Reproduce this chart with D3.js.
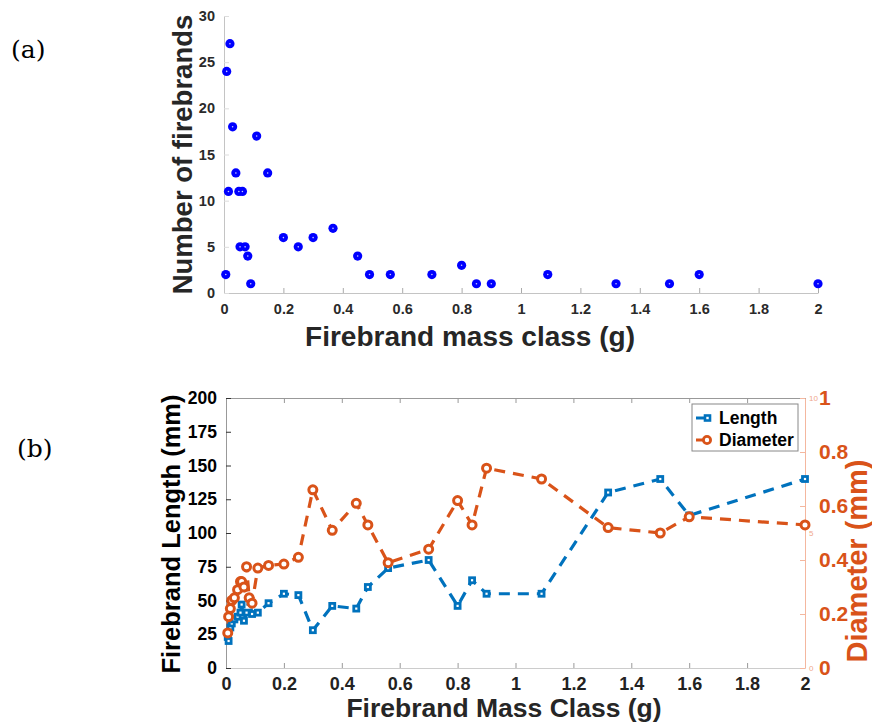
<!DOCTYPE html>
<html>
<head>
<meta charset="utf-8">
<script src="https://cdn.jsdelivr.net/npm/d3@7"></script>
<style>
  body { margin: 0; background: #fff; }
  svg { font-family: 'Liberation Sans', Arial, sans-serif; }
</style>
</head>
<body>
<div id="chart"></div>
<script>
// mass classes (g), shared by both panels
const massClass = [0.006, 0.009, 0.015, 0.02, 0.029, 0.04, 0.05, 0.054, 0.062, 0.071,
  0.08, 0.09, 0.11, 0.147, 0.2, 0.25, 0.3, 0.367, 0.45, 0.49,
  0.56, 0.7, 0.8, 0.85, 0.9, 1.09, 1.32, 1.5, 1.6, 2.0]
const firebrandCount = [2, 24, 11, 27, 18, 13, 11, 5, 11, 5,
  4, 1, 17, 13, 6, 5, 6, 7, 4, 2,
  2, 2, 3, 1, 1, 2, 1, 1, 2, 1]
const lengthMm = [23, 20, 30, 33, 36, 38, 41, 47, 35, 41,
  52, 40, 41, 48, 55, 54, 28, 46, 44, 60,
  74, 80, 46, 65, 55, 55, 130, 140, 113, 140]
const diameterMm = [0.13, 0.19, 0.22, 0.25, 0.26, 0.29, 0.32, 0.32, 0.3, 0.375,
  0.26, 0.24, 0.37, 0.38, 0.385, 0.41, 0.66, 0.51, 0.61, 0.53,
  0.39, 0.44, 0.62, 0.53, 0.74, 0.7, 0.52, 0.5, 0.56, 0.53]

const massTicks = [0, 0.2, 0.4, 0.6, 0.8, 1, 1.2, 1.4, 1.6, 1.8, 2]
const countTicks = [0, 5, 10, 15, 20, 25, 30]
const lengthTicks = [0, 25, 50, 75, 100, 125, 150, 175, 200]
const diameterTicks = [0, 0.2, 0.4, 0.6, 0.8, 1]
const ghostTicks = [0, 5, 10]
const seriesNames = ['Length', 'Diameter']

const blue = '#0072BD'
const orange = '#D95319'

const svg = d3.select('#chart').append('svg')
  .attr('width', 872)
  .attr('height', 726)

const fmt = d => String(d)

// ---------- panel (a) ----------
const xA = d3.scaleLinear().domain([0, 2]).range([224, 818])
const yA = d3.scaleLinear().domain([0, 30]).range([293, 16])

const gA = svg.append('g')

gA.append('g')
  .attr('transform', 'translate(0,' + yA(0) + ')')
  .call(d3.axisBottom(xA).tickValues(massTicks).tickFormat(fmt).tickSizeInner(-5).tickSizeOuter(0).tickPadding(11))
  .call(g => g.select('.domain').attr('stroke', '#c4c4c4'))
  .call(g => g.selectAll('.tick line').attr('stroke', '#aaa'))
  .call(g => g.selectAll('text').attr('font-size', 14.5).attr('font-weight', 'bold').attr('fill', '#2a2a2a'))

gA.append('g')
  .attr('transform', 'translate(' + xA(0) + ',0)')
  .call(d3.axisLeft(yA).tickValues(countTicks).tickFormat(fmt).tickSizeInner(-5).tickSizeOuter(0).tickPadding(9))
  .call(g => g.select('.domain').attr('stroke', '#c4c4c4'))
  .call(g => g.selectAll('.tick line').attr('stroke', '#ddd'))
  .call(g => g.selectAll('text').attr('font-size', 14.5).attr('font-weight', 'bold').attr('fill', '#2a2a2a'))

gA.selectAll('circle.pt')
  .data(massClass)
  .enter()
  .append('circle')
  .attr('class', 'pt')
  .attr('cx', d => xA(d))
  .attr('cy', (d, i) => yA(firebrandCount[i]))
  .attr('r', 4.6)
  .attr('fill', '#0000FF')

gA.selectAll('circle.ctr')
  .data(massClass)
  .enter()
  .append('circle')
  .attr('class', 'ctr')
  .attr('cx', d => xA(d))
  .attr('cy', (d, i) => yA(firebrandCount[i]))
  .attr('r', 0.8)
  .attr('fill', '#ccccff')

gA.append('text')
  .text('Number of firebrands')
  .attr('transform', 'translate(192,' + ((yA(0) + yA(30)) / 2) + ') rotate(-90)')
  .attr('text-anchor', 'middle')
  .attr('font-size', 27.5)
  .attr('font-weight', 'bold')
  .attr('fill', '#262626')

gA.append('text')
  .text('Firebrand mass class (g)')
  .attr('x', 470)
  .attr('y', 346)
  .attr('text-anchor', 'middle')
  .attr('font-size', 28)
  .attr('font-weight', 'bold')
  .attr('fill', '#262626')

svg.append('text')
  .text('(a)')
  .attr('x', 11)
  .attr('y', 58)
  .attr('font-family', 'DejaVu Serif')
  .attr('font-size', 25)
  .attr('fill', '#000')

// ---------- panel (b) ----------
const xB = d3.scaleLinear().domain([0, 2]).range([226, 805])
const yL = d3.scaleLinear().domain([0, 200]).range([668, 398])
const yR = d3.scaleLinear().domain([0, 1]).range([668, 398])
const yG = d3.scaleLinear().domain([0, 10]).range([668, 398])

const gB = svg.append('g')

// top border with inward ticks
gB.append('g')
  .attr('transform', 'translate(0,' + yL(200) + ')')
  .call(d3.axisTop(xB).tickValues(massTicks).tickFormat('').tickSizeInner(-5).tickSizeOuter(0))
  .call(g => g.select('.domain').attr('stroke', '#999'))
  .call(g => g.selectAll('.tick line').attr('stroke', '#999'))

gB.append('g')
  .attr('transform', 'translate(0,' + yL(0) + ')')
  .call(d3.axisBottom(xB).tickValues(massTicks).tickFormat(fmt).tickSizeInner(-5).tickSizeOuter(0).tickPadding(9))
  .call(g => g.select('.domain').attr('stroke', '#ccc'))
  .call(g => g.selectAll('.tick line').attr('stroke', '#999'))
  .call(g => g.selectAll('text').attr('font-size', 18).attr('font-weight', 'bold').attr('fill', '#222'))

gB.append('g')
  .attr('transform', 'translate(' + xB(0) + ',0)')
  .call(d3.axisLeft(yL).tickValues(lengthTicks).tickFormat(fmt).tickSizeInner(-5).tickSizeOuter(0).tickPadding(9))
  .call(g => g.select('.domain').attr('stroke', '#999'))
  .call(g => g.selectAll('.tick line').attr('stroke', '#333'))
  .call(g => g.selectAll('text').attr('font-size', 17.5).attr('font-weight', 'bold').attr('fill', '#000'))

gB.append('g')
  .attr('transform', 'translate(' + xB(2) + ',0)')
  .call(d3.axisRight(yR).tickValues(diameterTicks).tickFormat(fmt).tickSizeInner(-5).tickSizeOuter(0).tickPadding(14))
  .call(g => g.select('.domain').attr('stroke', '#f4b79f'))
  .call(g => g.selectAll('.tick line').attr('stroke', '#f4b79f'))
  .call(g => g.selectAll('text').attr('font-size', 21).attr('font-weight', 'bold').attr('fill', orange))

// faint leftover labels of a hidden axis
gB.append('g')
  .selectAll('text')
  .data(ghostTicks)
  .enter()
  .append('text')
  .text(d => d)
  .attr('x', xB(2) + 4)
  .attr('y', d => yG(d) + 3)
  .attr('font-size', 8)
  .attr('fill', '#f0a88c')

const lineL = d3.line().x(d => xB(d)).y((d, i) => yL(lengthMm[i]))
const lineR = d3.line().x(d => xB(d)).y((d, i) => yR(diameterMm[i]))

gB.append('path')
  .datum(massClass)
  .attr('d', lineL)
  .attr('fill', 'none')
  .attr('stroke', blue)
  .attr('stroke-width', 3.2)
  .attr('stroke-dasharray', '11,8')

gB.append('path')
  .datum(massClass)
  .attr('d', lineR)
  .attr('fill', 'none')
  .attr('stroke', orange)
  .attr('stroke-width', 3.2)
  .attr('stroke-dasharray', '11,8')

gB.selectAll('rect.mk')
  .data(massClass)
  .enter()
  .append('rect')
  .attr('class', 'mk')
  .attr('x', d => xB(d) - 2.5)
  .attr('y', (d, i) => yL(lengthMm[i]) - 2.5)
  .attr('width', 5)
  .attr('height', 5)
  .attr('fill', '#fff')
  .attr('stroke', blue)
  .attr('stroke-width', 2.8)

gB.selectAll('circle.mk')
  .data(massClass)
  .enter()
  .append('circle')
  .attr('class', 'mk')
  .attr('cx', d => xB(d))
  .attr('cy', (d, i) => yR(diameterMm[i]))
  .attr('r', 4)
  .attr('fill', '#fff')
  .attr('stroke', orange)
  .attr('stroke-width', 3)

gB.append('text')
  .text('Firebrand Length (mm)')
  .attr('transform', 'translate(180,534) rotate(-90)')
  .attr('text-anchor', 'middle')
  .attr('font-size', 25.5)
  .attr('font-weight', 'bold')
  .attr('fill', '#000')

gB.append('text')
  .text('Diameter (mm)')
  .attr('transform', 'translate(867,561) rotate(-90)')
  .attr('text-anchor', 'middle')
  .attr('font-size', 29)
  .attr('font-weight', 'bold')
  .attr('fill', orange)

gB.append('text')
  .text('Firebrand Mass Class (g)')
  .attr('x', 504)
  .attr('y', 717)
  .attr('text-anchor', 'middle')
  .attr('font-size', 26.5)
  .attr('font-weight', 'bold')
  .attr('fill', '#262626')

svg.append('text')
  .text('(b)')
  .attr('x', 17)
  .attr('y', 457)
  .attr('font-family', 'DejaVu Serif')
  .attr('font-size', 25)
  .attr('fill', '#000')

// legend
const legend = gB.append('g').attr('transform', 'translate(692,404)')
legend.append('rect')
  .attr('width', 106)
  .attr('height', 47)
  .attr('fill', '#fff')
  .attr('stroke', '#888')
  .attr('stroke-width', 1)

const legendColors = [blue, orange]
legend.selectAll('g')
  .data(seriesNames)
  .enter()
  .append('g')
  .attr('transform', (d, i) => 'translate(0,' + (14 + i * 22) + ')')
  .each(function(d, i) {
    const group = d3.select(this)
    group.append('line')
      .attr('x1', 4).attr('x2', 19)
      .attr('stroke', legendColors[i])
      .attr('stroke-width', 3)
    if (i === 0) {
      group.append('rect')
        .attr('x', 13).attr('y', -2.5).attr('width', 5).attr('height', 5)
        .attr('fill', '#fff').attr('stroke', blue).attr('stroke-width', 2.6)
    } else {
      group.append('circle')
        .attr('cx', 15).attr('r', 3.6)
        .attr('fill', '#fff').attr('stroke', orange).attr('stroke-width', 2.8)
    }
    group.append('text')
      .text(d)
      .attr('x', 27)
      .attr('dy', '0.36em')
      .attr('font-size', 17.5)
      .attr('font-weight', 'bold')
      .attr('fill', '#000')
  })
</script>
</body>
</html>
